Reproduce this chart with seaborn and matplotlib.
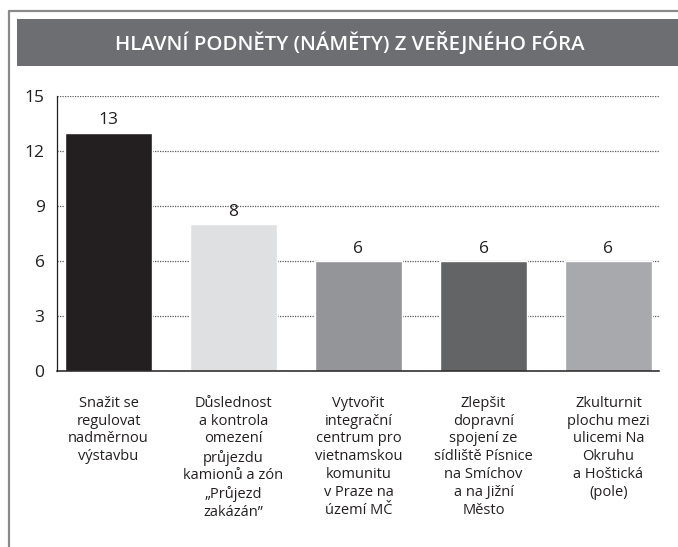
import matplotlib
matplotlib.use("Agg")
import matplotlib.pyplot as plt
import seaborn as sns
import pandas as pd
from matplotlib.lines import Line2D
from matplotlib.patches import Rectangle

title = "HLAVNÍ PODNĚTY (NÁMĚTY) Z VEŘEJNÉHO FÓRA"
categories = [
    "Snažit se\nregulovat\nnadměrnou\nvýstavbu",
    "Důslednost\na kontrola\nomezení\nprůjezdu\nkamionů a zón\n„Průjezd\nzakázán\u201d",
    "Vytvořit\nintegrační\ncentrum pro\nvietnamskou\nkomunitu\nv Praze na\núzemí MČ",
    "Zlepšit\ndopravní\nspojení ze\nsídliště Písnice\nna Smíchov\na na Jižní\nMěsto",
    "Zkulturnit\nplochu mezi\nulicemi Na\nOkruhu\na Hoštická\n(pole)",
]
values = [13, 8, 6, 6, 6]
colors = ["#231f20", "#dfe0e2", "#939598", "#636466", "#a7a9ac"]
yticks = [0, 3, 6, 9, 12, 15]

sns.set_theme(style="white")
plt.rcParams['font.family'] = ['Open Sans', 'DejaVu Sans']

W, H = 678, 547
fig = plt.figure(figsize=(W / 100, H / 100), dpi=100)
fig.patch.set_facecolor("white")

# outer frame (top and left)
fig.add_artist(Line2D([9 / W, 1], [1 - 11 / H, 1 - 11 / H], transform=fig.transFigure,
                      color="#8a8a8a", lw=1.6))
fig.add_artist(Line2D([9 / W, 9 / W], [0, 1 - 11 / H], transform=fig.transFigure,
                      color="#8a8a8a", lw=1.6))
# title banner
fig.add_artist(Rectangle((17 / W, 1 - 66 / H), (W - 17) / W, 47 / H,
                         transform=fig.transFigure, facecolor="#6d6e71", edgecolor="none"))
fig.text(350 / W, 1 - 43 / H, title, ha="center", va="center", color="white",
         fontsize=14.7, fontweight="semibold")

ax = fig.add_axes([57 / W, 176 / H, 602 / W, 275 / H])
df = pd.DataFrame({"cat": categories, "val": values})
sns.barplot(data=df, x="cat", y="val", hue="cat", palette=colors, width=0.7,
            saturation=1, legend=False, ax=ax)

for c in ax.containers:
    ax.bar_label(c, fmt="%d", padding=3, fontsize=12.5, color="#231f20")

ax.set_ylim(0, 15)
ax.set_xlim(-0.412, 4.404)
ax.set_yticks(yticks)
ax.set_yticklabels([str(t) for t in yticks])
ax.set_xlabel("")
ax.set_ylabel("")
ax.set_axisbelow(True)
ax.yaxis.grid(True, linestyle=(0, (1, 1)), color="#5a5b5e", lw=0.9)
ax.xaxis.grid(False)
for s in ["top", "right"]:
    ax.spines[s].set_visible(False)
ax.spines["left"].set_color("#231f20")
ax.spines["left"].set_linewidth(0.9)
ax.spines["bottom"].set_color("#231f20")
ax.spines["bottom"].set_linewidth(1.1)
ax.tick_params(axis="y", length=0, pad=9, labelsize=12.5, labelcolor="#231f20")
ax.tick_params(axis="x", length=0, pad=18, labelsize=10.5, labelcolor="#231f20")
for lab in ax.get_xticklabels():
    lab.set_linespacing(1.25)
    lab.set_va("top")

fig.savefig("out.png", dpi=100, facecolor="white")
